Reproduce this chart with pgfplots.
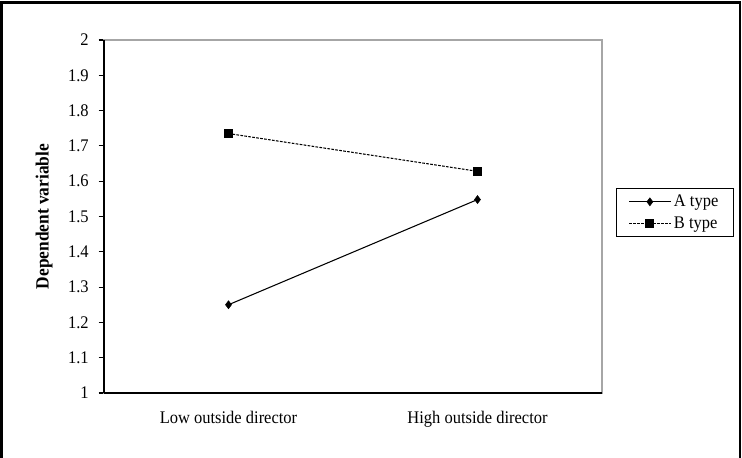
\documentclass[border=0pt]{standalone}
\usepackage{pgfplots}
\pgfplotsset{compat=1.18}
\usepackage{fontspec}
\setmainfont{Liberation Serif}[FakeStretch=0.93]
\begin{document}
\begin{tikzpicture}
\useasboundingbox (0,0) rectangle (556.5pt,342.75pt);
\draw[line width=2.2pt] (1.3pt,-2pt) -- (1.3pt,341pt) -- (555pt,341pt) -- (555pt,-2pt);
\begin{axis}[
  at={(78pt,48pt)}, anchor=south west,
  scale only axis, width=373.5pt, height=264.75pt,
  xmin=-0.5, xmax=1.5, ymin=1, ymax=2,
  ytick={1,1.1,...,2.01},
  yticklabels={1,1.1,1.2,1.3,1.4,1.5,1.6,1.7,1.8,1.9,2},
  xtick={0,1},
  xticklabels={Low outside director, High outside director},
  extra x ticks={-0.5,0.5,1.5},
  extra x tick labels={},
  extra x tick style={major tick length=5pt, tick style={black, line width=0.8pt}},
  major tick length=4pt,
  tick align=outside,
  ytick pos=left, xtick pos=bottom,
  axis line style={gray!70, line width=0.8pt},
  tick style={black, line width=0.8pt},
  x tick style={draw=none},
  /pgf/number format/assume math mode=true,
  tick label style={font=\fontsize{13.3}{15}\selectfont},
  xticklabel style={yshift=-6pt},
  yticklabel style={xshift=-4pt},
  ylabel={\textbf{Dependent variable}},
  ylabel style={font=\fontsize{14}{16}\selectfont, at={(axis description cs:-0.12,0.5)}, anchor=center},
  legend style={at={(1.028,0.511)}, anchor=west, draw=black, line width=0.8pt,
    font=\fontsize{13.3}{15}\selectfont, cells={anchor=west}, row sep=2pt, inner xsep=9pt, inner ysep=3pt},
  legend image code/.code={\draw[mark repeat=2,mark phase=2] plot coordinates {(0cm,0cm) (0.55cm,0cm) (1.1cm,0cm)};},
  clip=false,
]
\addplot[black, line width=0.8pt, mark=diamond*, mark size=3pt, mark options={solid, line width=0.4pt}] coordinates {(0,1.25) (1,1.548)};
\addlegendentry{A type}
\addplot[black, line width=0.8pt, dash pattern=on 2pt off 1pt, mark=square*, mark size=3pt, mark options={solid}] coordinates {(0,1.735) (1,1.628)};
\addlegendentry{B type}
\draw[black, line width=0.9pt] (rel axis cs:0,0) -- (rel axis cs:0,1);
\draw[black, line width=0.9pt] (rel axis cs:0,0) -- (rel axis cs:1,0);
\end{axis}
\end{tikzpicture}
\end{document}
